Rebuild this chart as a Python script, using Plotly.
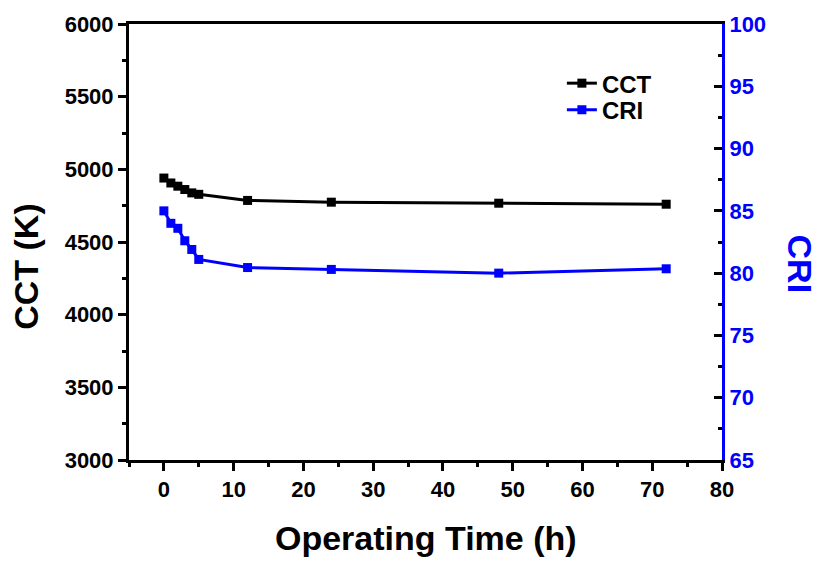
import plotly.graph_objects as go

time_h = [0, 1, 2, 3, 4, 5, 12, 24, 48, 72]
cct = [4940, 4906, 4884, 4861, 4838, 4828, 4786, 4774, 4767, 4760]
cri = [85.0, 84.0, 83.6, 82.6, 81.9, 81.1, 80.45, 80.3, 80.0, 80.35]

FONT = "Liberation Sans, Arial, sans-serif"
BLUE = "#0000ff"

fig = go.Figure()
fig.add_trace(go.Scatter(x=time_h, y=cct, name="CCT", mode="lines+markers",
                         line=dict(color="black", width=3),
                         marker=dict(symbol="square", size=9, color="black"),
                         yaxis="y", legend="legend"))
fig.add_trace(go.Scatter(x=time_h, y=cri, name="CRI", mode="lines+markers",
                         line=dict(color=BLUE, width=3),
                         marker=dict(symbol="square", size=9, color=BLUE),
                         yaxis="y2", legend="legend2"))

leg_common = dict(xanchor="left", yanchor="top", bgcolor="rgba(0,0,0,0)",
                  font=dict(size=24, family=FONT, color="black", weight="bold"),
                  itemwidth=30)

fig.update_layout(
    width=821, height=561,
    margin=dict(l=129, r=99, t=22, b=101),
    plot_bgcolor="white", paper_bgcolor="white",
    font=dict(family=FONT, size=22, color="black"),
    showlegend=True,
    legend=dict(x=0.73, y=0.915, **leg_common),
    legend2=dict(x=0.73, y=0.854, **leg_common),
    xaxis=dict(range=[-5, 80], tickmode="linear", tick0=0, dtick=10,
               showgrid=False, zeroline=False, showline=True, linecolor="black", linewidth=3,
               mirror=True, ticks="outside", ticklen=8, tickwidth=3, tickcolor="black",
               minor=dict(ticks="outside", dtick=5, tick0=0, ticklen=4, tickwidth=3, tickcolor="black"),
               tickfont=dict(size=22, family=FONT, weight="bold")),
    yaxis=dict(range=[3000, 6000], tickmode="linear", tick0=3000, dtick=500,
               showgrid=False, zeroline=False, showline=True, linecolor="black", linewidth=3,
               ticks="outside", ticklen=8, tickwidth=3, tickcolor="black",
               minor=dict(ticks="outside", dtick=250, tick0=3000, ticklen=4, tickwidth=3, tickcolor="black"),
               tickfont=dict(size=22, family=FONT, weight="bold")),
    yaxis2=dict(range=[65, 100], tickmode="linear", tick0=65, dtick=5,
                overlaying="y", side="right", anchor="x",
                showgrid=False, zeroline=False, showline=True, linecolor=BLUE, linewidth=3,
                ticks="inside", ticklen=8, tickwidth=3, tickcolor="black",
                minor=dict(ticks="inside", dtick=2.5, tick0=65, ticklen=4, tickwidth=3, tickcolor="black"),
                tickfont=dict(size=22, family=FONT, weight="bold", color=BLUE)),
    annotations=[
        dict(text="Operating Time (h)", xref="paper", yref="paper", x=0.5, y=-0.178,
             xanchor="center", yanchor="middle", showarrow=False,
             font=dict(size=34, family=FONT, weight="bold", color="black")),
        dict(text="CCT (K)", xref="paper", yref="paper", x=-0.174, y=0.445,
             xanchor="center", yanchor="middle", textangle=-90, showarrow=False,
             font=dict(size=34, family=FONT, weight="bold", color="black")),
        dict(text="CRI", xref="paper", yref="paper", x=1.132, y=0.45,
             xanchor="center", yanchor="middle", textangle=90, showarrow=False,
             font=dict(size=34, family=FONT, weight="bold", color=BLUE)),
    ],
)

fig.write_html("out.html")
